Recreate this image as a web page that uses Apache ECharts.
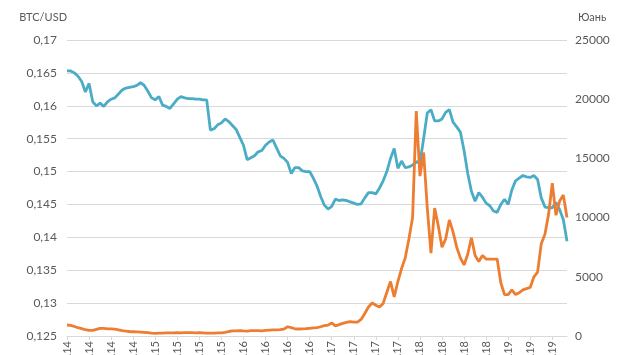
<html>
<head>
<meta charset="utf-8" />
<title>BTC / Yuan</title>
<script src="https://cdn.jsdelivr.net/npm/echarts@6/dist/echarts.min.js"></script>
<style>
  body { margin: 0; background: #fff; }
  #chart { width: 630px; height: 355px; }
</style>
</head>
<body>
<div id="chart"></div>
<script type="text/javascript">
// half-month samples, Jan 2014 .. Sep 2019
var quarterLabels = ['янв.14', 'апр.14', 'июл.14', 'окт.14',
                     'янв.15', 'апр.15', 'июл.15', 'окт.15',
                     'янв.16', 'апр.16', 'июл.16', 'окт.16',
                     'янв.17', 'апр.17', 'июл.17', 'окт.17',
                     'янв.18', 'апр.18', 'июл.18', 'окт.18',
                     'янв.19', 'апр.19', 'июл.19'];

var rateValues = [
  0.1653, 0.1653, 0.1650, 0.1645, 0.1637, 0.1621, 0.1634, 0.1606, 0.1600, 0.1604,
  0.1599, 0.1606, 0.1610, 0.1612, 0.1618, 0.1624, 0.1627, 0.1628, 0.1629, 0.1631,
  0.1635, 0.1631, 0.1622, 0.1612, 0.1609, 0.1614, 0.1601, 0.1599, 0.1596, 0.1603,
  0.1610, 0.1614, 0.1612, 0.1611, 0.1611, 0.1610, 0.1610, 0.1609, 0.1609, 0.1563,
  0.1565, 0.1571, 0.1574, 0.1580, 0.1576, 0.1570, 0.1564, 0.1552, 0.1540, 0.1518,
  0.1521, 0.1524, 0.1530, 0.1532, 0.1540, 0.1545, 0.1548, 0.1536, 0.1524, 0.1520,
  0.1514, 0.1497, 0.1506, 0.1506, 0.1501, 0.1500, 0.1500, 0.1490, 0.1478, 0.1462,
  0.1449, 0.1443, 0.1447, 0.1458, 0.1456, 0.1457, 0.1456, 0.1454, 0.1452, 0.1450,
  0.1451, 0.1460, 0.1468, 0.1468, 0.1466, 0.1475, 0.1486, 0.1500, 0.1520, 0.1535,
  0.1505, 0.1516, 0.1506, 0.1507, 0.1510, 0.1515, 0.1513, 0.1550, 0.1589, 0.1594,
  0.1577, 0.1577, 0.1580, 0.1590, 0.1594, 0.1575, 0.1568, 0.1560, 0.1532, 0.1497,
  0.1470, 0.1455, 0.1468, 0.1461, 0.1452, 0.1448, 0.1440, 0.1438, 0.1450, 0.1458,
  0.1450, 0.1472, 0.1486, 0.1490, 0.1494, 0.1492, 0.1491, 0.1494, 0.1488, 0.1460,
  0.1446, 0.1445, 0.1445, 0.1453, 0.1442, 0.1427, 0.1394
];

var btcValues = [
  930, 900, 800, 700, 620, 530, 470, 480, 560, 640,
  650, 610, 600, 580, 520, 460, 420, 380, 360, 340,
  320, 300, 280, 250, 230, 240, 250, 260, 270, 270,
  280, 270, 280, 290, 280, 270, 280, 270, 250, 240,
  250, 260, 270, 300, 380, 430, 440, 450, 430, 420,
  450, 460, 450, 440, 470, 500, 510, 520, 530, 580,
  780, 700, 610, 590, 600, 620, 650, 680, 700, 780,
  870, 920, 1100, 860, 960, 1060, 1150, 1220, 1170, 1180,
  1400, 1900, 2450, 2800, 2600, 2450, 2750, 3700, 4600, 3300,
  4600, 5700, 6600, 8200, 10000, 19000, 13500, 15500, 10800, 7000,
  10800, 9300, 7500, 8200, 9800, 8800, 7500, 6600, 6000, 6900,
  8300, 6800, 6300, 6800, 6500, 6500, 6500, 6500, 4500, 3500,
  3500, 3900, 3500, 3650, 3900, 4000, 4100, 5000, 5400, 7800,
  8600, 10300, 12900, 10200, 11400, 11900, 10000
];

var categories = [];
for (var i = 0; i < rateValues.length; i++) {
    var m = Math.floor(i / 2);
    var y = 2014 + Math.floor(m / 12);
    categories.push(y + '-' + ('0' + (m % 12 + 1)).slice(-2) + (i % 2 ? '-16' : '-01'));
}

var chart = echarts.init(document.getElementById('chart'));
var labelColor = '#595959';
var font = 'Lato, "Open Sans", sans-serif';

var option = {
    animation: false,
    grid: { left: 67, right: 63, top: 40, bottom: 19, containLabel: false, outerBoundsMode: 'none' },
    xAxis: {
        type: 'category',
        data: categories,
        boundaryGap: false,
        axisLine: { lineStyle: { color: '#d9d9d9' } },
        axisTick: { interval: 5, length: 4, lineStyle: { color: '#d9d9d9' } },
        axisLabel: {
            interval: 5,
            rotate: 90,
            margin: 5,
            color: labelColor,
            fontFamily: font,
            fontSize: 11,
            formatter: function (v, idx) { return quarterLabels[idx / 6] || ''; }
        },
        splitLine: { show: false }
    },
    yAxis: [{
        type: 'value',
        name: 'BTC/USD',
        nameLocation: 'end',
        nameGap: 17,
        nameTextStyle: { color: labelColor, fontFamily: font, fontSize: 11, align: 'right', padding: [0, 0, 0, 0] },
        min: 0.125,
        max: 0.17,
        interval: 0.005,
        axisLine: { show: false },
        axisTick: { show: false },
        axisLabel: {
            color: labelColor, fontFamily: font, fontSize: 12, margin: 10,
            formatter: function (v) { return String(parseFloat(v.toFixed(3))).replace('.', ','); }
        },
        splitLine: { lineStyle: { color: '#d9d9d9', width: 1 } }
    }, {
        type: 'value',
        name: 'Юань',
        nameLocation: 'end',
        nameGap: 17,
        nameTextStyle: { color: labelColor, fontFamily: font, fontSize: 11, align: 'left', padding: [0, 0, 0, 11] },
        min: 0,
        max: 25000,
        interval: 5000,
        axisLine: { show: false },
        axisTick: { show: false },
        axisLabel: {
            color: labelColor, fontFamily: font, fontSize: 12, margin: 8,
            formatter: function (v) { return String(v); }
        },
        splitLine: { show: false }
    }],
    series: [{
        name: 'BTC/USD',
        type: 'line',
        yAxisIndex: 0,
        data: rateValues,
        showSymbol: false,
        lineStyle: { color: '#4bacc6', width: 2.8 },
        itemStyle: { color: '#4bacc6' }
    }, {
        name: 'Юань',
        type: 'line',
        yAxisIndex: 1,
        data: btcValues,
        showSymbol: false,
        lineStyle: { color: '#ed7d31', width: 2.8 },
        itemStyle: { color: '#ed7d31' }
    }]
};
chart.setOption(option);
</script>
</body>
</html>
